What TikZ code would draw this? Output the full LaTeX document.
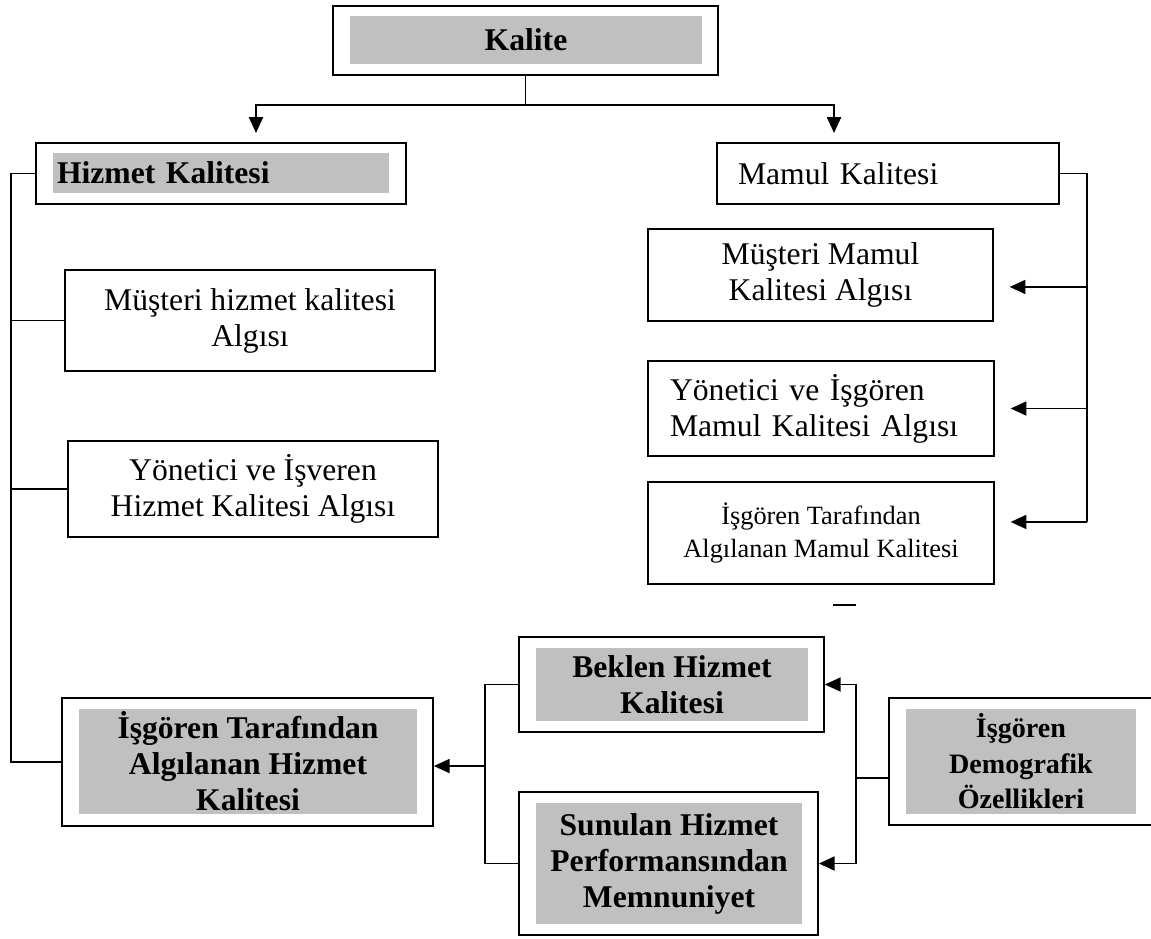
\documentclass[tikz,border=0pt]{standalone}
\usepackage{fontspec}
\setmainfont{Liberation Serif}
\usetikzlibrary{arrows.meta}
\definecolor{kutugri}{HTML}{C0C0C0}
\begin{document}
\begin{tikzpicture}[x=0.02cm,y=-0.02cm,
    kutu/.style={draw,line width=1pt,inner sep=0pt,align=center,font=\fontsize{18}{20.5}\selectfont},
    gri/.style={fill=kutugri,inner sep=0pt,align=center,font=\fontsize{18}{20.5}\selectfont\bfseries},
    hat/.style={line width=1pt},
    oku/.style={line width=1pt,-{Triangle[length=9pt,width=8pt]}}]
    \useasboundingbox (0,0) rectangle (1151,938);
    \node[kutu,minimum width=7.7cm,minimum height=1.38cm] (kalite) at (525.5,40.5) {};
    \node[gri,minimum width=7.04cm,minimum height=0.96cm] (kaliteYazi) at (526,40) {Kalite};
    \node[kutu,minimum width=7.4cm,minimum height=1.22cm] (hizmet) at (221,173.5) {};
    \node[gri,minimum width=6.72cm,minimum height=0.8cm,text width=6.56cm,align=left] (hizmetYazi) at (221,173) {Hizmet Kalitesi};
    \node[kutu,minimum width=6.84cm,minimum height=1.22cm,text width=6cm,align=left] (mamul) at (888,173.5) {Mamul Kalitesi};
    \node[kutu,minimum width=7.4cm,minimum height=2.02cm] (mhka) at (250,320.5) {Müşteri hizmet kalitesi\\Algısı};
    \node[kutu,minimum width=7.4cm,minimum height=1.92cm] (yihka) at (253,489) {Yönetici ve İşveren\\Hizmet Kalitesi Algısı};
    \node[kutu,minimum width=6.9cm,minimum height=1.84cm] (mmka) at (820.5,275) {Müşteri Mamul\\Kalitesi Algısı};
    \node[kutu,minimum width=6.92cm,minimum height=1.9cm,text width=6.04cm,align=left] (yimka) at (821,408.5) {Yönetici ve İşgören\\Mamul Kalitesi Algısı};
    \node[kutu,minimum width=6.92cm,minimum height=2.04cm,font=\fontsize{15}{18.5}\selectfont] (itamk) at (821,533) {İşgören Tarafından\\Algılanan Mamul Kalitesi};
    \node[inner sep=0pt] (cizgi) at (844.5,605) {\rule{13pt}{1pt}};
    \node[kutu,minimum width=7.42cm,minimum height=2.56cm] (ihk) at (247.5,762) {};
    \node[gri,minimum width=6.76cm,minimum height=2.1cm] (ihkYazi) at (248,761.5) {İşgören Tarafından\\Algılanan Hizmet\\Kalitesi};
    \node[kutu,minimum width=6.1cm,minimum height=1.9cm] (bhk) at (671.5,684.5) {};
    \node[gri,minimum width=5.44cm,minimum height=1.46cm] (bhkYazi) at (672,684.5) {Beklen Hizmet\\Kalitesi};
    \node[kutu,minimum width=5.98cm,minimum height=2.86cm] (shpm) at (668.5,863.5) {};
    \node[gri,minimum width=5.32cm,minimum height=2.42cm] (shpmYazi) at (669,863.5) {Sunulan Hizmet\\Performansından\\Memnuniyet};
    \node[kutu,minimum width=5.3cm,minimum height=2.54cm] (demo) at (1021.5,761.5) {};
    \node[gri,minimum width=4.6cm,minimum height=2.1cm,font=\fontsize{16}{20.2}\selectfont\bfseries] (demoYazi) at (1021,761.5) {İşgören\\Demografik\\Özellikleri};
    \coordinate (okHizmet) at (256,133);
    \coordinate (okMamul) at (834,133);
    \draw[oku] (kalite.south) -- ++(0,29) -| (okHizmet);
    \draw[oku] (kalite.south) -- ++(0,29) -| (okMamul);
    \coordinate (solHat) at (11,173.5);
    \draw[hat] (hizmet.west) -- (solHat) |- (ihk.west);
    \draw[hat] (mhka.west) -- (mhka.west -| solHat);
    \draw[hat] (yihka.west) -- (yihka.west -| solHat);
    \coordinate (sagHat) at (1087,173.5);
    \coordinate (okMmka) at ([xshift=9pt,yshift=-6.8pt]mmka.east);
    \coordinate (okYimka) at ([xshift=9pt]yimka.east);
    \coordinate (okItamk) at ([xshift=9pt,yshift=6.3pt]itamk.east);
    \draw[hat] (mamul.east) -- (sagHat) -- (sagHat |- okItamk);
    \draw[oku] (sagHat |- okMmka) -- (okMmka);
    \draw[oku] (sagHat |- okYimka) -- (okYimka);
    \draw[oku] (sagHat |- okItamk) -- (okItamk);
    \coordinate (solKol) at (485,766);
    \draw[hat] (bhk.west) -| (solKol) |- (shpm.west);
    \draw[oku] (solKol) -- (solKol -| ihk.east);
    \coordinate (sagKol) at (856,778);
    \draw[oku] (sagKol) |- (bhk.east);
    \draw[oku] (sagKol) |- (shpm.east);
    \draw[hat] (sagKol) -- (sagKol -| demo.west);
\end{tikzpicture}
\end{document}
